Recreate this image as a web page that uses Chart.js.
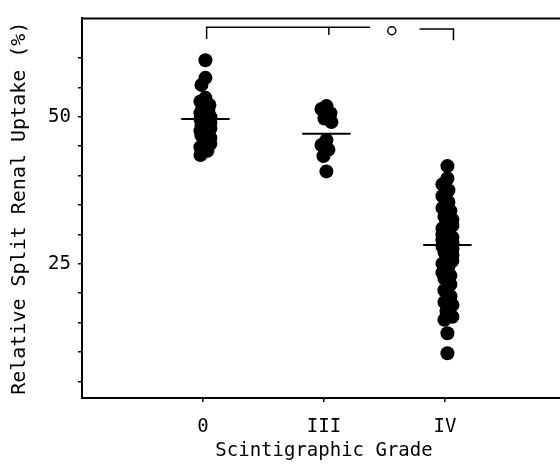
<!DOCTYPE html>
<html>
<head>
<meta charset="utf-8">
<script src="https://cdn.jsdelivr.net/npm/chart.js@4"></script>
<style>
  html, body { margin: 0; padding: 0; background: #fff; overflow: hidden; }
  #wrap { width: 575px; height: 469px; position: relative; }
</style>
</head>
<body>
<div id="wrap"><canvas id="chart"></canvas></div>
<script>
// --- Data ---
const gradeLabels = ['0', 'III', 'IV'];

const grade0 = [59.6, 56.6, 55.4, 53.2, 52.6, 52.0, 51.5, 51.0, 50.6, 50.2, 49.9, 49.6, 49.3,
  49.0, 48.6, 48.3, 48.0, 47.6, 47.2, 46.8, 46.4, 45.9, 45.4, 44.8, 44.2, 43.5];
const grade3 = [51.8, 51.3, 50.6, 49.7, 49.1, 46.0, 45.2, 44.4, 43.3, 40.7];
const grade4 = [41.6, 39.5, 38.5, 37.5, 36.5, 35.5, 34.5, 34.0, 33.0, 32.5, 32.0, 31.5, 31.0,
  30.5, 30.0, 29.5, 29.0, 29.0, 28.5, 28.5, 28.0, 28.0, 27.5, 27.0, 27.0, 26.5, 26.0, 25.5,
  25.0, 24.5, 23.5, 23.0, 22.5, 21.5, 20.5, 19.5, 18.5, 18.0, 17.0, 16.0, 15.5, 13.2, 9.8];
const medians = [49.6, 47.1, 28.2];

const yTicks = [5, 10, 15, 20, 25, 30, 35, 40, 45, 50, 55, 60];
const yLabeled = [25, 50];

// significance bracket between grade 0 and grade IV (marker "o")
const bracketTop = 65.2;
const bracketFoot = 63.2;
const bracketMid = 63.9;

// --- Layout helpers ---
const X_MIN = 0, X_MAX = 4, Y_MIN = 2.2, Y_MAX = 66.7;
const PX_X = 484 / (X_MAX - X_MIN);   // approx px per x unit
const PX_Y = 382 / (Y_MAX - Y_MIN);   // approx px per y unit
const CENTER_SHIFT = 0.02;

// simple deterministic beeswarm: spread overlapping dots sideways a little
function swarm(values, center) {
  const placed = [];
  const cands = [0];
  for (let k = 1; k <= 5; k++) cands.push(-k, k);
  const minDist = 8;
  values.forEach(v => {
    const py = v * PX_Y;
    let best = 0, bestD = -1;
    for (const c of cands) {
      let d = Infinity;
      placed.forEach(p => {
        d = Math.min(d, Math.hypot(p.px - c, p.py - py));
      });
      if (d >= minDist) { best = c; break; }
      if (d > bestD) { bestD = d; best = c; }
    }
    placed.push({ px: best, py: py });
  });
  return placed.map((p, i) => ({ x: center + CENTER_SHIFT + p.px / PX_X, y: values[i] }));
}

const groups = [grade0, grade3, grade4];
const dots = groups.flatMap((vals, i) => swarm(vals, i + 1));

const medianSets = medians.map((m, i) => ({
  type: 'line',
  data: [{ x: i + 1 + CENTER_SHIFT - 0.2, y: m }, { x: i + 1 + CENTER_SHIFT + 0.2, y: m }],
  borderColor: '#000',
  borderWidth: 2,
  pointRadius: 0,
  showLine: true
}));

const lineStyle = { type: 'line', borderColor: '#000', borderWidth: 1.5, pointRadius: 0, showLine: true, fill: false };

const bracketSets = [
  { ...lineStyle, data: [{ x: 1.03, y: bracketFoot }, { x: 1.03, y: bracketTop }, { x: 2.38, y: bracketTop }] },
  { ...lineStyle, data: [{ x: 2.04, y: bracketTop }, { x: 2.04, y: bracketMid }] },
  { ...lineStyle, data: [{ x: 2.79, y: bracketTop - 0.3 }, { x: 3.07, y: bracketTop - 0.3 }, { x: 3.07, y: bracketFoot - 0.2 }] },
  {
    type: 'scatter',
    data: [{ x: 2.56, y: bracketTop - 0.6 }],
    pointRadius: 4,
    backgroundColor: '#fff',
    borderColor: '#000',
    borderWidth: 1.5
  }
];

// box frame (top / right edges)
const frame = {
  id: 'frame',
  afterDraw(chart) {
    const { ctx, chartArea: a } = chart;
    ctx.save();
    ctx.strokeStyle = '#000';
    ctx.lineWidth = 2;
    ctx.beginPath();
    ctx.moveTo(a.left, a.top);
    ctx.lineTo(a.right, a.top);
    ctx.lineTo(a.right, a.bottom);
    ctx.stroke();
    ctx.restore();
  }
};

const monoFont = 'DejaVu Sans Mono';

new Chart(document.getElementById('chart'), {
  type: 'scatter',
  data: {
    datasets: [
      {
        data: dots,
        pointRadius: 7,
        pointHoverRadius: 7,
        backgroundColor: '#000',
        borderWidth: 0
      },
      ...medianSets,
      ...bracketSets
    ]
  },
  options: {
    responsive: true,
    maintainAspectRatio: false,
    animation: false,
    layout: { padding: { top: 16, right: 9, left: 0, bottom: 0 } },
    plugins: {
      legend: { display: false },
      tooltip: { enabled: false }
    },
    scales: {
      x: {
        type: 'linear',
        min: X_MIN,
        max: X_MAX,
        afterFit: (s) => { s.height = 71; },
        afterBuildTicks: (s) => { s.ticks = [1, 2, 3].map(v => ({ value: v })); },
        ticks: {
          callback: (v) => gradeLabels[v - 1] ?? '',
          color: '#000',
          font: { family: monoFont, size: 19 },
          padding: 14,
          maxRotation: 0
        },
        grid: { drawOnChartArea: false, drawTicks: true, tickLength: 4, color: '#000', lineWidth: 1.5 },
        border: { display: true, color: '#000', width: 2 },
        title: {
          display: true,
          text: 'Scintigraphic Grade',
          color: '#000',
          font: { family: monoFont, size: 19 },
          padding: { top: 0, bottom: 7 }
        }
      },
      y: {
        type: 'linear',
        min: Y_MIN,
        max: Y_MAX,
        afterFit: (s) => { s.width = 82; },
        afterBuildTicks: (s) => { s.ticks = yTicks.map(v => ({ value: v })); },
        ticks: {
          callback: (v) => yLabeled.includes(v) ? String(v) : '',
          color: '#000',
          font: { family: monoFont, size: 19 },
          padding: 7
        },
        grid: { drawOnChartArea: false, drawTicks: true, tickLength: 4, color: '#000', lineWidth: 1.5 },
        border: { display: true, color: '#000', width: 2 },
        title: {
          display: true,
          text: 'Relative Split Renal Uptake (%)',
          color: '#000',
          font: { family: monoFont, size: 20 },
          padding: { top: 8, bottom: 0 }
        }
      }
    }
  },
  plugins: [frame]
});
</script>
</body>
</html>
